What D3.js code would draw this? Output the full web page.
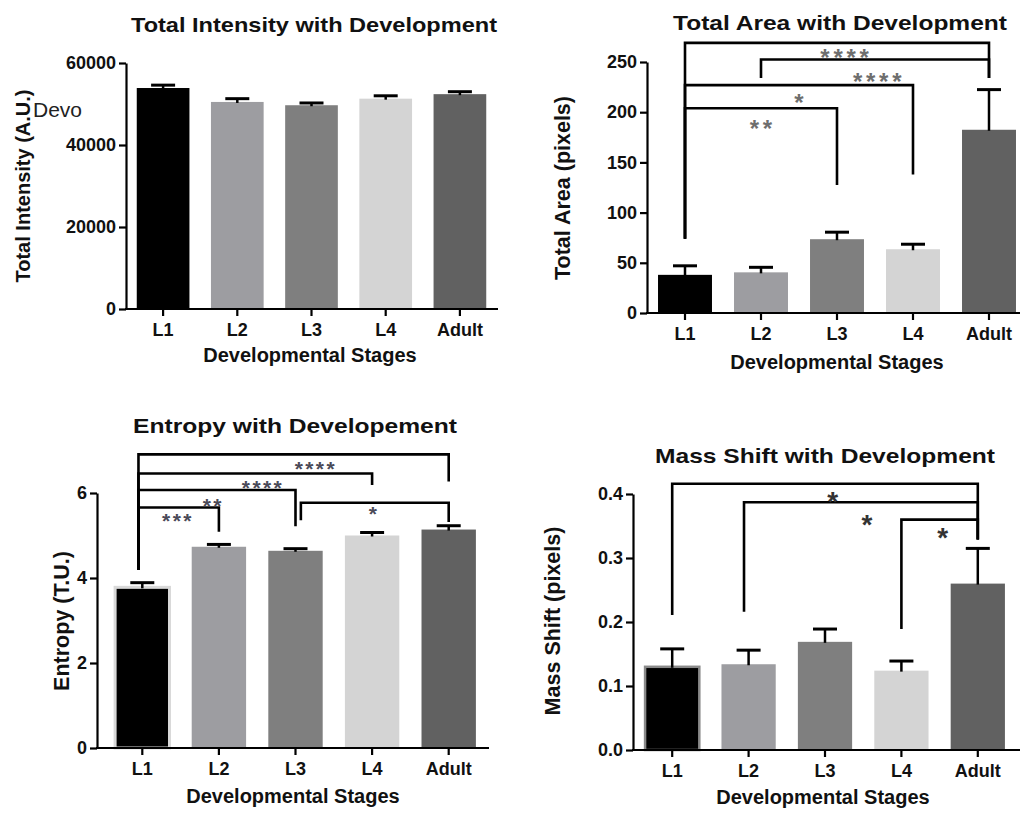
<!DOCTYPE html>
<html>
<head>
<meta charset="utf-8">
<script src="https://cdn.jsdelivr.net/npm/d3@7"></script>
<style>
  body { margin: 0; background: #fff; }
  svg text { font-family: "Liberation Sans", Arial, sans-serif; fill: #111; }
</style>
</head>
<body>
<svg id="chart" width="1020" height="813"></svg>
<script>
// data
const stages = ["L1", "L2", "L3", "L4", "Adult"];

const intensityMean = [53900, 50500, 49700, 51300, 52400];
const intensityErr = [700, 800, 550, 700, 600];

const areaMean = [38, 40.5, 73.5, 63.5, 182.5];
const areaErr = [9, 5, 7, 5, 40];

const entropyMean = [3.78, 4.735, 4.64, 5.0, 5.14];
const entropyErr = [0.11, 0.055, 0.05, 0.07, 0.09];

const shiftMean = [0.130, 0.134, 0.169, 0.124, 0.260];
const shiftErr = [0.028, 0.022, 0.020, 0.015, 0.055];

// significance brackets: stage index (fractional ok), bar level and leg ends in data units
const areaBrackets = [
  { from: 0, to: 4, level: 269, fromEnd: 74, toEnd: 234 },
  { from: 1, to: 4, level: 252.5, fromEnd: 234, toEnd: 234 },
  { from: 0, to: 3, level: 227, fromEnd: 74, toEnd: 138 },
  { from: 0, to: 2, level: 204, fromEnd: 74, toEnd: 127.5 }
];
const areaStars = [
  { text: "****", at: 2.1, level: 260 },
  { text: "****", at: 2.53, level: 236 },
  { text: "*", at: 1.5, level: 215 },
  { text: "**", at: 1.0, level: 189 }
];

const entropyBrackets = [
  { from: -0.05, to: 4, level: 6.91, fromEnd: 4.19, toEnd: 6.27 },
  { from: -0.05, to: 3, level: 6.46, fromEnd: 4.19, toEnd: 6.19 },
  { from: -0.05, to: 2, level: 6.07, fromEnd: 4.19, toEnd: 5.22 },
  { from: -0.05, to: 1, level: 5.66, fromEnd: 4.19, toEnd: 5.09 },
  { from: 2.07, to: 4, level: 5.77, fromEnd: 5.36, toEnd: 5.32 }
];
const entropyStars = [
  { text: "****", at: 2.25, level: 6.68 },
  { text: "****", at: 1.56, level: 6.23 },
  { text: "**", at: 0.91, level: 5.82 },
  { text: "***", at: 0.45, level: 5.46 },
  { text: "*", at: 3.01, level: 5.62 }
];

const shiftBrackets = [
  { from: 0, to: 4, level: 0.416, fromEnd: 0.211, toEnd: 0.329 },
  { from: 0.94, to: 4, level: 0.387, fromEnd: 0.216, toEnd: 0.329 },
  { from: 3, to: 4, level: 0.360, fromEnd: 0.189, toEnd: 0.329 }
];
const shiftStars = [
  { text: "*", at: 2.1, level: 0.398 },
  { text: "*", at: 2.55, level: 0.363 },
  { text: "*", at: 3.54, level: 0.342 }
];

const barColors = ["#000000", "#9d9da1", "#7f7f7f", "#d4d4d4", "#616161"];

const svg = d3.select("#chart");

let drawPanel = (cfg) => {
  const g = svg.append("g");

  const x = d3.scaleBand()
    .domain(stages)
    .range(cfg.band)
    .paddingInner(0.29)
    .paddingOuter(0.145);
  const y = d3.scaleLinear().domain(cfg.domain).range([cfg.bottom, cfg.top]);

  // center of a (possibly fractional) stage index
  const step = x.step();
  const cx = i => x(stages[0]) + x.bandwidth() / 2 + i * step;

  // bars
  g.selectAll(".bar")
    .data(cfg.mean)
    .enter()
    .append("rect")
    .attr("class", "bar")
    .attr("x", (d, i) => x(stages[i]))
    .attr("width", x.bandwidth())
    .attr("y", d => y(d))
    .attr("height", d => y(0) - y(d))
    .style("fill", (d, i) => barColors[i])
    .style("stroke", (d, i) => i === 0 && cfg.firstStroke ? cfg.firstStroke : "none")
    .style("stroke-width", cfg.firstStrokeW || 0);

  // error bars (upper only)
  const capW = 24;
  cfg.mean.forEach((m, i) => {
    const top = y(m + cfg.err[i]);
    g.append("line")
      .attr("x1", cx(i)).attr("x2", cx(i))
      .attr("y1", y(m) + 1).attr("y2", top)
      .style("stroke", "#000").style("stroke-width", 2.5);
    g.append("line")
      .attr("x1", cx(i) - capW / 2).attr("x2", cx(i) + capW / 2)
      .attr("y1", top).attr("y2", top)
      .style("stroke", "#000").style("stroke-width", 3);
  });

  // y axis
  const yAxis = d3.axisLeft(y)
    .tickValues(cfg.ticks)
    .tickFormat(cfg.fmt)
    .tickSize(7)
    .tickPadding(3)
    .tickSizeOuter(0);
  const ya = g.append("g")
    .attr("transform", `translate(${cfg.axisX},0)`)
    .call(yAxis);
  ya.select(".domain").style("stroke-width", 2.2);
  ya.selectAll(".tick line").style("stroke-width", 2.2);
  ya.selectAll(".tick text")
    .style("font-size", "18px")
    .style("font-weight", "bold")
    .attr("fill", "#111");

  // x axis
  const xAxis = d3.axisBottom(x).tickSize(7).tickPadding(7).tickSizeOuter(0);
  const xa = g.append("g")
    .attr("transform", `translate(0,${cfg.bottom})`)
    .call(xAxis);
  xa.select(".domain").remove();
  xa.append("line")
    .attr("x1", cfg.axisX - 1).attr("x2", cfg.axisEnd)
    .attr("y1", 0).attr("y2", 0)
    .style("stroke", "#000").style("stroke-width", 2.2);
  xa.selectAll(".tick line").style("stroke-width", 2.2);
  xa.selectAll(".tick text")
    .style("font-size", "18px")
    .style("font-weight", "bold")
    .attr("fill", "#111");

  // brackets
  g.selectAll(".bracket")
    .data(cfg.brackets)
    .enter()
    .append("path")
    .attr("class", "bracket")
    .attr("d", b => `M${cx(b.from)},${y(b.fromEnd)}V${y(b.level)}H${cx(b.to)}V${y(b.toEnd)}`)
    .style("fill", "none")
    .style("stroke", "#000")
    .style("stroke-width", 2.6)
    .style("stroke-linejoin", "miter");

  // significance stars
  g.selectAll(".star")
    .data(cfg.stars)
    .enter()
    .append("text")
    .attr("class", "star")
    .attr("x", s => cx(s.at) + cfg.starSpacing / 2)
    .attr("y", s => y(s.level) + cfg.starSize * 0.57)
    .attr("text-anchor", "middle")
    .style("font-size", cfg.starSize + "px")
    .style("font-weight", "bold")
    .style("letter-spacing", cfg.starSpacing + "px")
    .style("fill", cfg.starColor)
    .text(s => s.text);

  // titles
  g.append("text")
    .attr("x", cfg.titleX).attr("y", cfg.titleY)
    .attr("text-anchor", "middle")
    .attr("textLength", cfg.titleW)
    .attr("lengthAdjust", "spacingAndGlyphs")
    .style("font-size", "21px").style("font-weight", "bold")
    .text(cfg.title);

  g.append("text")
    .attr("x", cfg.xTitleX).attr("y", cfg.xTitleY)
    .attr("text-anchor", "middle")
    .style("font-size", "20px").style("font-weight", "bold")
    .text("Developmental Stages");

  g.append("text")
    .attr("transform", `translate(${cfg.yTitleX},${cfg.yTitleY}) rotate(-90)`)
    .attr("text-anchor", "middle")
    .attr("dominant-baseline", "central")
    .style("font-size", cfg.yTitleSize + "px").style("font-weight", "bold")
    .text(cfg.yTitle);
};

drawPanel({
  mean: intensityMean, err: intensityErr,
  domain: [0, 60000], ticks: [0, 20000, 40000, 60000], fmt: d3.format("d"),
  band: [126, 497], axisX: 126, axisEnd: 498, top: 63, bottom: 309,
  brackets: [], stars: [], starSize: 16, starSpacing: 0, starColor: "#333",
  title: "Total Intensity with Development", titleX: 314, titleY: 32, titleW: 366,
  xTitleX: 310, xTitleY: 362, yTitle: "Total Intensity (A.U.)", yTitleSize: 20, yTitleX: 23, yTitleY: 186
});

drawPanel({
  mean: areaMean, err: areaErr,
  domain: [0, 250], ticks: [0, 50, 100, 150, 200, 250], fmt: d3.format("d"),
  band: [647, 1027], axisX: 647, axisEnd: 1022, top: 62, bottom: 313,
  brackets: areaBrackets, stars: areaStars, starSize: 24, starSpacing: 3.7, starColor: "#6e6e6e",
  title: "Total Area with Development", titleX: 840, titleY: 30, titleW: 334,
  xTitleX: 837, xTitleY: 369, yTitle: "Total Area (pixels)", yTitleSize: 21.5, yTitleX: 563, yTitleY: 188
});

drawPanel({
  mean: entropyMean, err: entropyErr,
  domain: [0, 6], ticks: [0, 2, 4, 6], fmt: d3.format("d"),
  band: [104, 487], axisX: 97, axisEnd: 489, top: 493, bottom: 748,
  firstStroke: "#d9d9d9", firstStrokeW: 3,
  brackets: entropyBrackets, stars: entropyStars, starSize: 21, starSpacing: 2.4, starColor: "#4a4a58",
  title: "Entropy with Developement", titleX: 295, titleY: 433, titleW: 324,
  xTitleX: 293, xTitleY: 803, yTitle: "Entropy (T.U.)", yTitleSize: 21.5, yTitleX: 62, yTitleY: 621
});

drawPanel({
  mean: shiftMean, err: shiftErr,
  domain: [0, 0.4], ticks: [0, 0.1, 0.2, 0.3, 0.4], fmt: d3.format(".1f"),
  band: [634, 1016], axisX: 633, axisEnd: 1022, top: 494, bottom: 750,
  firstStroke: "#8a8a8a", firstStrokeW: 2.5,
  brackets: shiftBrackets, stars: shiftStars, starSize: 28, starSpacing: 0, starColor: "#333",
  title: "Mass Shift with Development", titleX: 825, titleY: 463, titleW: 340,
  xTitleX: 823, xTitleY: 804, yTitle: "Mass Shift (pixels)", yTitleSize: 21.5, yTitleX: 553, yTitleY: 621
});

// stray label in the top-left panel
svg.append("text")
  .attr("x", 33).attr("y", 117)
  .style("font-size", "21px")
  .style("fill", "#222")
  .text("Devo");
</script>
</body>
</html>
